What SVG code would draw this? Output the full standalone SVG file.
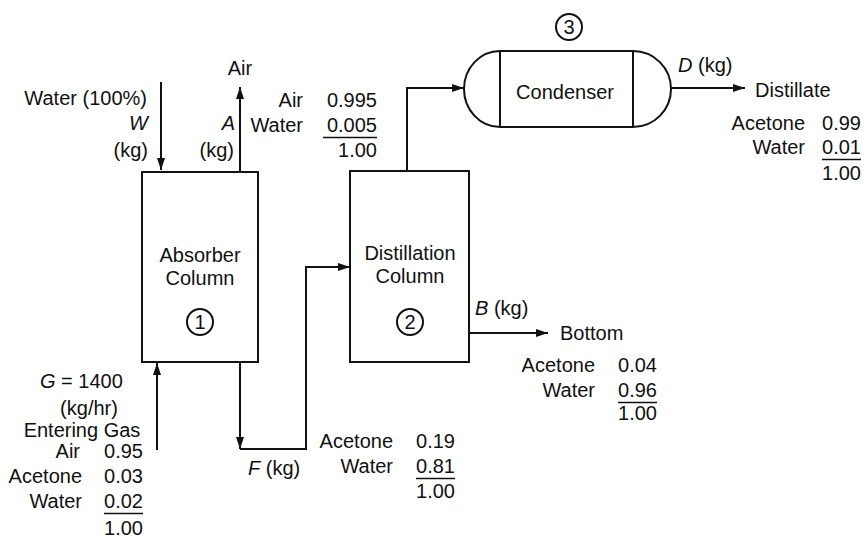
<svg xmlns="http://www.w3.org/2000/svg" width="866" height="539" viewBox="0 0 866 539">
<style>
text{font-family:"Liberation Sans",Arial,Helvetica,sans-serif;font-size:20px;fill:#111}
.e{text-anchor:end}.m{text-anchor:middle}.i{font-style:italic}
.s{fill:none;stroke:#111;stroke-width:2}
.u{stroke:#111;stroke-width:1.6}
</style>
<defs>
<marker id="ah" viewBox="0 0 12 8" refX="12" refY="4" markerWidth="12" markerHeight="8" orient="auto" markerUnits="userSpaceOnUse"><path d="M0,0 L12,4 L0,8 Z" fill="#111"/></marker>
</defs>
<rect width="866" height="539" fill="#fff"/>
<g id="absorber">
<rect class="s" x="142" y="172" width="116" height="190"/>
<text class="m" x="200" y="262">Absorber</text>
<text class="m" x="200" y="285">Column</text>
<circle class="s" cx="200" cy="322" r="13"/>
<text class="m" x="200" y="329">1</text>
</g>
<g id="distillation">
<rect class="s" x="350" y="171" width="119" height="191"/>
<text class="m" x="410" y="260">Distillation</text>
<text class="m" x="410" y="283">Column</text>
<circle class="s" cx="410" cy="322" r="13"/>
<text class="m" x="410" y="329">2</text>
</g>
<g id="condenser">
<path class="s" d="M500,51 H633 A38 38 0 0 1 633,127 H500 A36 38 0 0 1 500,51 Z"/>
<line class="s" x1="500" y1="51" x2="500" y2="127"/>
<line class="s" x1="633" y1="51" x2="633" y2="127"/>
<text class="m" x="565" y="99">Condenser</text>
<circle class="s" cx="569" cy="27" r="13"/>
<text class="m" x="569" y="34">3</text>
</g>
<g id="connectors">
<path class="s" d="M161,82 V170" marker-end="url(#ah)"/>
<path class="s" d="M240,172 V87" marker-end="url(#ah)"/>
<path class="s" d="M157,450 V363" marker-end="url(#ah)"/>
<path class="s" d="M240,362 V449" marker-end="url(#ah)"/>
<path class="s" d="M240,449 H306 V267 H350" marker-end="url(#ah)"/>
<path class="s" d="M407,171 V88 H464" marker-end="url(#ah)"/>
<path class="s" d="M671,88 H745" marker-end="url(#ah)"/>
<path class="s" d="M469,333 H548" marker-end="url(#ah)"/>
</g>
<g id="labels-top-left">
<text class="m" x="240" y="75">Air</text>
<text class="e" x="147" y="105">Water (100%)</text>
<text class="e i" x="148" y="130">W</text>
<text class="e" x="148" y="157">(kg)</text>
<text class="e i" x="235" y="130">A</text>
<text class="e" x="234" y="157">(kg)</text>
</g>
<g id="labels-air-out">
<text class="e" x="303" y="107">Air</text>
<text class="e" x="377" y="107">0.995</text>
<text class="e" x="303" y="132">Water</text>
<text class="e" x="377" y="132">0.005</text>
<line class="u" x1="323" y1="137.5" x2="377" y2="137.5"/>
<text class="e" x="377" y="157">1.00</text>
</g>
<g id="labels-distillate">
<text x="678" y="72"><tspan font-style="italic">D</tspan> (kg)</text>
<text x="755" y="97">Distillate</text>
<text class="e" x="805" y="130">Acetone</text>
<text class="e" x="861" y="130">0.99</text>
<text class="e" x="805" y="154">Water</text>
<text class="e" x="861" y="154">0.01</text>
<line class="u" x1="822" y1="159.5" x2="861" y2="159.5"/>
<text class="e" x="861" y="180">1.00</text>
</g>
<g id="labels-bottom">
<text x="475" y="315"><tspan font-style="italic">B</tspan> (kg)</text>
<text x="560" y="340">Bottom</text>
<text class="e" x="595" y="372">Acetone</text>
<text class="e" x="657" y="372">0.04</text>
<text class="e" x="595" y="397">Water</text>
<text class="e" x="657" y="397">0.96</text>
<line class="u" x1="618" y1="402.5" x2="657" y2="402.5"/>
<text class="e" x="657" y="420">1.00</text>
</g>
<g id="labels-feed">
<text x="248" y="475"><tspan font-style="italic">F</tspan> (kg)</text>
<text class="e" x="393" y="448">Acetone</text>
<text class="e" x="455" y="448">0.19</text>
<text class="e" x="393" y="473">Water</text>
<text class="e" x="455" y="473">0.81</text>
<line class="u" x1="416" y1="478.5" x2="455" y2="478.5"/>
<text class="e" x="455" y="498">1.00</text>
</g>
<g id="labels-gas">
<text x="40" y="388"><tspan font-style="italic">G</tspan> = 1400</text>
<text class="m" x="89" y="415">(kg/hr)</text>
<text class="m" x="82" y="437">Entering Gas</text>
<text class="e" x="80" y="458">Air</text>
<text class="e" x="143" y="458">0.95</text>
<text class="e" x="82" y="483">Acetone</text>
<text class="e" x="143" y="483">0.03</text>
<text class="e" x="82" y="508">Water</text>
<text class="e" x="143" y="508">0.02</text>
<line class="u" x1="104" y1="513.5" x2="143" y2="513.5"/>
<text class="e" x="143" y="535">1.00</text>
</g>
</svg>
